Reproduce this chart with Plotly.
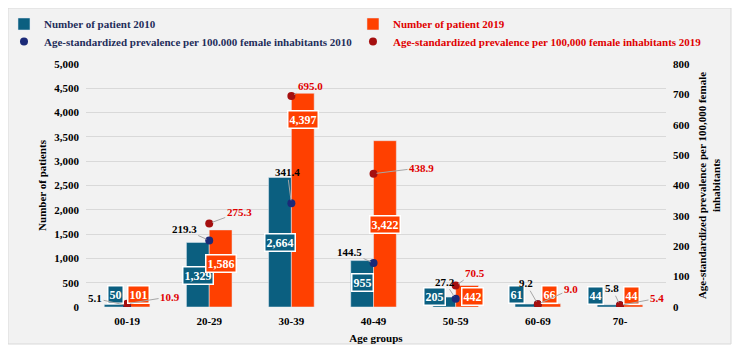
import plotly.graph_objects as go

categories = ["00-19", "20-29", "30-39", "40-49", "50-59", "60-69", "70-"]
patients_2010 = [50, 1329, 2664, 955, 205, 61, 44]
patients_2019 = [101, 1586, 4397, 3422, 442, 66, 44]
prev_2010 = [5.1, 219.3, 341.4, 144.5, 27.2, 9.2, 5.8]
prev_2019 = [10.9, 275.3, 695.0, 438.9, 70.5, 9.0, 5.4]

y_ticks = [0, 500, 1000, 1500, 2000, 2500, 3000, 3500, 4000, 4500, 5000]
y2_ticks = [0, 100, 200, 300, 400, 500, 600, 700, 800]

# label placement (layout only)
lab10_y = [267, 658, 1327, 494, 206, 257, 247]
lab19_y = [267, 895, 3848, 1698, 206, 257, 247]
lab10_dx = [-11.5, -11.5, -11.5, -11.5, -21, -21, -25]
lab19_dx = [11.5, 11.5, 11.5, 11.5, 17, 11.5, 11.5]
p10_off = [(-32, -7), (-25, -11), (-4, -31), (-24, -11), (-11, -17), (-12, -21), (-8, -17)]
p19_off = [(43, -7), (30, -11), (19, -10), (48, -6), (19, -13), (33, -15), (37, -7)]

BLUE = "#0b5f80"
ORANGE = "#ff4000"
NAVY = "#1b2a78"
DARKRED = "#a50f0f"
RED = "#e00000"
FONT = "Liberation Serif, Times New Roman, serif"

fig = go.Figure()
fig.add_trace(go.Bar(x=categories, y=patients_2010, marker_color=BLUE, legend="legend",
                     name="<span style='color:#1f2d5a'>Number of patient 2010</span>"))
fig.add_trace(go.Bar(x=categories, y=patients_2019, marker_color=ORANGE, legend="legend2",
                     name="<span style='color:#e00000'>Number of patient 2019</span>"))
fig.add_trace(go.Scatter(x=categories, y=prev_2010, yaxis="y2", mode="markers", legend="legend3",
                         marker=dict(color=NAVY, size=8),
                         name="<span style='color:#1f2d5a'>Age-standardized prevalence per 100.000 female inhabitants 2010</span>"))
fig.add_trace(go.Scatter(x=categories, y=prev_2019, yaxis="y2", mode="markers", legend="legend4",
                         marker=dict(color=DARKRED, size=8),
                         name="<span style='color:#e00000'>Age-standardized prevalence per 100,000 female inhabitants 2019</span>"))

ann = []
for i, c in enumerate(categories):
    ann.append(dict(x=c, y=lab10_y[i], xref="x", yref="y", xshift=lab10_dx[i],
                    text=f"{patients_2010[i]:,}", showarrow=False,
                    bgcolor=BLUE, bordercolor="white", borderwidth=1.5, borderpad=1,
                    font=dict(family=FONT, size=12, color="white", weight="bold")))
    ann.append(dict(x=c, y=lab19_y[i], xref="x", yref="y", xshift=lab19_dx[i],
                    text=f"{patients_2019[i]:,}", showarrow=False,
                    bgcolor=ORANGE, bordercolor="white", borderwidth=1.5, borderpad=1,
                    font=dict(family=FONT, size=12, color="white", weight="bold")))
    ann.append(dict(x=c, y=prev_2010[i], xref="x", yref="y2",
                    ax=p10_off[i][0], ay=p10_off[i][1], showarrow=True, arrowhead=0,
                    arrowwidth=1, arrowcolor="#a6a6a6", standoff=3,
                    text=f"{prev_2010[i]:.1f}",
                    font=dict(family=FONT, size=11, color="black", weight="bold")))
    ann.append(dict(x=c, y=prev_2019[i], xref="x", yref="y2",
                    ax=p19_off[i][0], ay=p19_off[i][1], showarrow=True, arrowhead=0,
                    arrowwidth=1, arrowcolor="#a6a6a6", standoff=3,
                    text=f"{prev_2019[i]:.1f}",
                    font=dict(family=FONT, size=11, color=RED, weight="bold")))

legend_common = dict(orientation="v", xref="paper", yref="paper",
                     xanchor="left", yanchor="top", itemwidth=30, tracegroupgap=0,
                     bgcolor="rgba(0,0,0,0)",
                     font=dict(family=FONT, size=11, weight="bold"))

# page body has an 8px margin: figure is 735x347 and sits at (8, 8)
fig.update_layout(
    width=735, height=347,
    margin=dict(l=78, r=77, t=56, b=48, autoexpand=False),
    paper_bgcolor="white", plot_bgcolor="rgba(0,0,0,0)",
    barmode="group", bargap=0.445, bargroupgap=0,
    font=dict(family=FONT, size=11, color="black", weight="bold"),
    showlegend=True,
    legend=dict(x=-0.1414, y=1.2243, **legend_common),
    legend2=dict(x=0.4603, y=1.2243, **legend_common),
    legend3=dict(x=-0.1414, y=1.1523, **legend_common),
    legend4=dict(x=0.4603, y=1.1523, **legend_common),
    xaxis=dict(showgrid=False, showline=False, ticks="", ticklabelstandoff=6,
               title=dict(text="Age groups", standoff=8,
                          font=dict(family=FONT, size=11, weight="bold")),
               tickfont=dict(family=FONT, size=11, weight="bold")),
    yaxis=dict(range=[0, 5000], tickvals=y_ticks, tickformat=",d",
               showgrid=True, gridcolor="#d9d9d9", gridwidth=1, zeroline=False,
               ticks="", ticklabelstandoff=6,
               title=dict(text="Number of patients", standoff=5,
                          font=dict(family=FONT, size=11, weight="bold")),
               tickfont=dict(family=FONT, size=11, weight="bold")),
    yaxis2=dict(range=[0, 800], tickvals=y2_ticks, overlaying="y", side="right",
                showgrid=False, zeroline=False, ticks="", ticklabelstandoff=6,
                title=dict(text="Age-standardized prevalence per 100,000 female<br>inhabitants",
                           standoff=9, font=dict(family=FONT, size=11, weight="bold")),
                tickfont=dict(family=FONT, size=11, weight="bold")),
    shapes=[dict(type="rect", xref="paper", yref="paper", layer="below",
                 x0=(0 - 78) / 580, x1=(723 - 78) / 580,
                 y0=(299 - 336) / 243, y1=(299 - 0) / 243,
                 fillcolor="#f2f2f2", line=dict(color="#d9d9d9", width=1))],
    annotations=ann,
)

fig.write_html("out.html", config={"displayModeBar": False})
